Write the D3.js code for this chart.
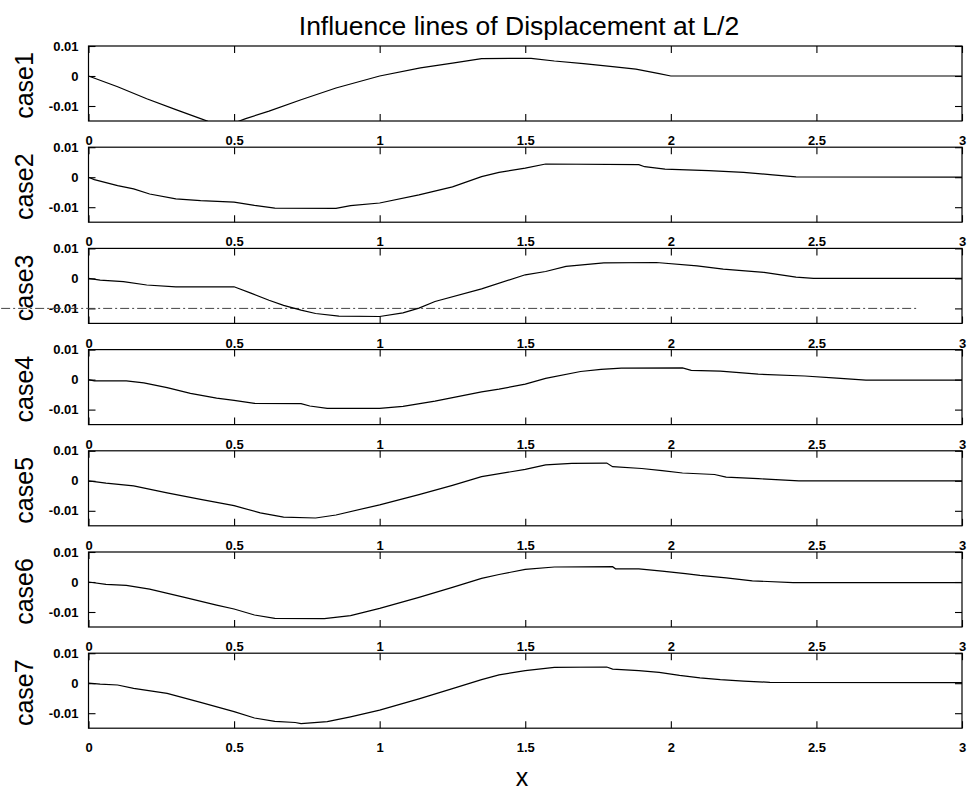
<!DOCTYPE html>
<html>
<head>
<meta charset="utf-8">
<script src="https://cdn.jsdelivr.net/npm/d3@7"></script>
<style>
  html, body { margin: 0; padding: 0; background: #fff; }
  svg { display: block; }
  text { font-family: "Liberation Sans", Arial, Helvetica, sans-serif; fill: #000; }
  .tick text { font-size: 13px; font-weight: bold; }
</style>
</head>
<body>
<svg id="chart" width="969" height="791"></svg>
<script>
// Influence lines of the mid-span displacement for seven load cases
const titleText = "Influence lines of Displacement at L/2";
const xLabelText = "x";
const caseNames = ["case1", "case2", "case3", "case4", "case5", "case6", "case7"];
const xTicks = [0, 0.5, 1, 1.5, 2, 2.5, 3];
const yTicks = [0.01, 0, -0.01];
const xDomain = [0, 3];
const yDomain = [-0.015, 0.01];

// [x, displacement] samples for each case
const case1 = [[0,0],[0.1,-0.0036],[0.2,-0.0076],[0.3,-0.0112],[0.385,-0.0142],[0.41,-0.0151],
  [0.46,-0.0162],[0.51,-0.0153],[0.54,-0.0142],[0.62,-0.0117],[0.73,-0.0079],[0.85,-0.0040],
  [1.0,0],[1.14,0.0027],[1.25,0.0043],[1.35,0.0058],[1.45,0.0059],[1.52,0.0059],[1.6,0.0050],
  [1.7,0.0041],[1.8,0.0031],[1.88,0.0023],[1.96,0.0008],[2.0,0],[2.5,0],[3.0,0]];
const case2 = [[0,0],[0.02,-0.0008],[0.1,-0.0028],[0.155,-0.0039],[0.21,-0.0056],[0.3,-0.0072],
  [0.385,-0.0078],[0.5,-0.0083],[0.57,-0.0094],[0.64,-0.0103],[0.85,-0.0104],[0.9,-0.0095],
  [1.0,-0.0086],[1.135,-0.0059],[1.25,-0.0032],[1.35,0.0002],[1.41,0.0016],[1.5,0.0030],
  [1.57,0.0044],[1.89,0.0042],[1.91,0.0035],[1.98,0.0027],[2.13,0.0022],[2.25,0.0016],
  [2.35,0.0008],[2.43,0.0001],[3.0,0]];
const case3 = [[0,0],[0.04,-0.0006],[0.12,-0.0011],[0.2,-0.0022],[0.3,-0.0028],[0.5,-0.0028],
  [0.56,-0.0050],[0.62,-0.0073],[0.67,-0.0090],[0.73,-0.0106],[0.78,-0.0117],[0.86,-0.0126],
  [1.0,-0.0127],[1.08,-0.0115],[1.135,-0.0099],[1.19,-0.0077],[1.35,-0.0035],[1.5,0.0012],
  [1.57,0.0023],[1.64,0.0040],[1.77,0.0052],[1.95,0.0053],[2.09,0.0042],[2.18,0.0031],
  [2.32,0.0020],[2.43,0.0004],[2.49,0],[3.0,0]];
const case4 = [[0,0],[0.02,-0.0004],[0.13,-0.0004],[0.19,-0.0011],[0.27,-0.0027],[0.35,-0.0046],
  [0.44,-0.0062],[0.5,-0.0069],[0.57,-0.0079],[0.73,-0.0080],[0.76,-0.0088],[0.82,-0.0096],
  [1.0,-0.0096],[1.08,-0.0089],[1.19,-0.0072],[1.35,-0.0041],[1.41,-0.0032],[1.5,-0.0015],
  [1.57,0.0004],[1.69,0.0027],[1.76,0.0034],[1.83,0.0038],[2.04,0.0039],[2.07,0.0031],
  [2.17,0.0028],[2.3,0.0018],[2.46,0.0012],[2.57,0.0005],[2.67,-0.0002],[3.0,-0.0002]];
const case5 = [[0,0],[0.06,-0.0008],[0.155,-0.0017],[0.27,-0.0040],[0.385,-0.0062],[0.5,-0.0083],
  [0.59,-0.0107],[0.67,-0.0121],[0.78,-0.0124],[0.85,-0.0114],[1.0,-0.0080],[1.135,-0.0046],
  [1.25,-0.0015],[1.35,0.0014],[1.5,0.0038],[1.57,0.0053],[1.66,0.0058],[1.78,0.0059],
  [1.8,0.0047],[1.9,0.0041],[1.97,0.0034],[2.04,0.0026],[2.15,0.0021],[2.19,0.0012],
  [2.3,0.0007],[2.44,0],[3.0,0]];
const case6 = [[0,0],[0.06,-0.0008],[0.13,-0.0011],[0.21,-0.0024],[0.33,-0.0051],[0.44,-0.0077],
  [0.5,-0.0090],[0.57,-0.0110],[0.64,-0.0121],[0.81,-0.0122],[0.9,-0.0112],[1.0,-0.0088],
  [1.135,-0.0051],[1.25,-0.0018],[1.35,0.0012],[1.41,0.0025],[1.5,0.0042],[1.6,0.0050],
  [1.8,0.0051],[1.81,0.0044],[1.89,0.0044],[1.97,0.0036],[2.05,0.0028],[2.1,0.0022],
  [2.19,0.0014],[2.28,0.0004],[2.42,-0.0002],[3.0,-0.0002]];
const case7 = [[0,0],[0.04,-0.0003],[0.1,-0.0006],[0.155,-0.0017],[0.27,-0.0034],[0.385,-0.0064],
  [0.5,-0.0095],[0.57,-0.0116],[0.64,-0.0127],[0.71,-0.0131],[0.73,-0.0135],[0.82,-0.0128],
  [0.9,-0.0112],[1.0,-0.0090],[1.135,-0.0052],[1.25,-0.0018],[1.35,0.0012],[1.41,0.0028],
  [1.5,0.0042],[1.6,0.0053],[1.78,0.0054],[1.8,0.0047],[1.89,0.0042],[1.96,0.0036],
  [2.03,0.0026],[2.1,0.0018],[2.17,0.0012],[2.25,0.0007],[2.34,0.0003],[3.0,0.0002]];
const caseSeries = [case1, case2, case3, case4, case5, case6, case7];

// dash-dot reference level drawn across case3
const case3RefLevel = -0.01;
const case3RefSpan = [-0.3, 2.85];

// layout
const plotLeft = 88.5, plotRight = 962;
const firstTop = 46, panelPitch = 101.2, panelHeight = 75;
const tickLen = 7;

const svg = d3.select("#chart");
const x = d3.scaleLinear().domain(xDomain).range([plotLeft, plotRight]);
const fmt = d => (d === 0 ? "0" : String(d));

svg.append("text")
  .attr("x", 519).attr("y", 35)
  .attr("text-anchor", "middle")
  .style("font-size", "26.5px")
  .text(titleText);

caseSeries.forEach((series, i) => {
  const top = firstTop + i * panelPitch;
  const bottom = top + panelHeight;
  const y = d3.scaleLinear().domain(yDomain).range([bottom, top]);
  const g = svg.append("g");

  const clipId = "clip" + i;
  svg.append("clipPath").attr("id", clipId)
    .append("rect")
    .attr("x", plotLeft).attr("y", top)
    .attr("width", plotRight - plotLeft).attr("height", panelHeight);

  // bottom axis with labels, ticks pointing inward
  const gb = g.append("g").attr("transform", `translate(0,${bottom})`)
    .call(d3.axisBottom(x).tickValues(xTicks).tickFormat(fmt)
      .tickSizeInner(-tickLen).tickSizeOuter(0).tickPadding(15));
  // top axis, ticks only
  const gt = g.append("g").attr("transform", `translate(0,${top})`)
    .call(d3.axisTop(x).tickValues(xTicks).tickFormat("")
      .tickSizeInner(-tickLen).tickSizeOuter(0));
  // left axis with labels
  const gl = g.append("g").attr("transform", `translate(${plotLeft},0)`)
    .call(d3.axisLeft(y).tickValues(yTicks).tickFormat(fmt)
      .tickSizeInner(-tickLen).tickSizeOuter(0).tickPadding(10));
  // right axis, ticks only
  const gr = g.append("g").attr("transform", `translate(${plotRight},0)`)
    .call(d3.axisRight(y).tickValues(yTicks).tickFormat("")
      .tickSizeInner(-tickLen).tickSizeOuter(0));

  [gb, gt, gl, gr].forEach(a => {
    a.attr("font-size", null).attr("font-family", null);
    a.select(".domain").remove();
    a.selectAll("line").attr("stroke", "#000").attr("stroke-width", 1.1);
    a.selectAll("text").attr("fill", "#000");
  });

  // axes box
  g.append("rect")
    .attr("x", plotLeft).attr("y", top)
    .attr("width", plotRight - plotLeft).attr("height", panelHeight)
    .attr("fill", "none").attr("stroke", "#000").attr("stroke-width", 1.2);

  if (i === 2) {
    g.append("line")
      .attr("x1", x(case3RefSpan[0])).attr("x2", x(case3RefSpan[1]))
      .attr("y1", y(case3RefLevel)).attr("y2", y(case3RefLevel))
      .attr("stroke", "#444").attr("stroke-width", 1)
      .attr("stroke-dasharray", "9,3,2,3");
  }

  g.append("path")
    .datum(series)
    .attr("clip-path", `url(#${clipId})`)
    .attr("fill", "none")
    .attr("stroke", "#000")
    .attr("stroke-width", 1.2)
    .attr("d", d3.line().x(d => x(d[0])).y(d => y(d[1])));

  // case label
  const cy = (top + bottom) / 2 + 2;
  svg.append("text")
    .attr("transform", `translate(33,${cy}) rotate(-90)`)
    .attr("text-anchor", "middle")
    .style("font-size", "25px")
    .text(caseNames[i]);
});

svg.append("text")
  .attr("x", 522).attr("y", 786)
  .attr("text-anchor", "middle")
  .style("font-size", "25px")
  .text(xLabelText);
</script>
</body>
</html>
